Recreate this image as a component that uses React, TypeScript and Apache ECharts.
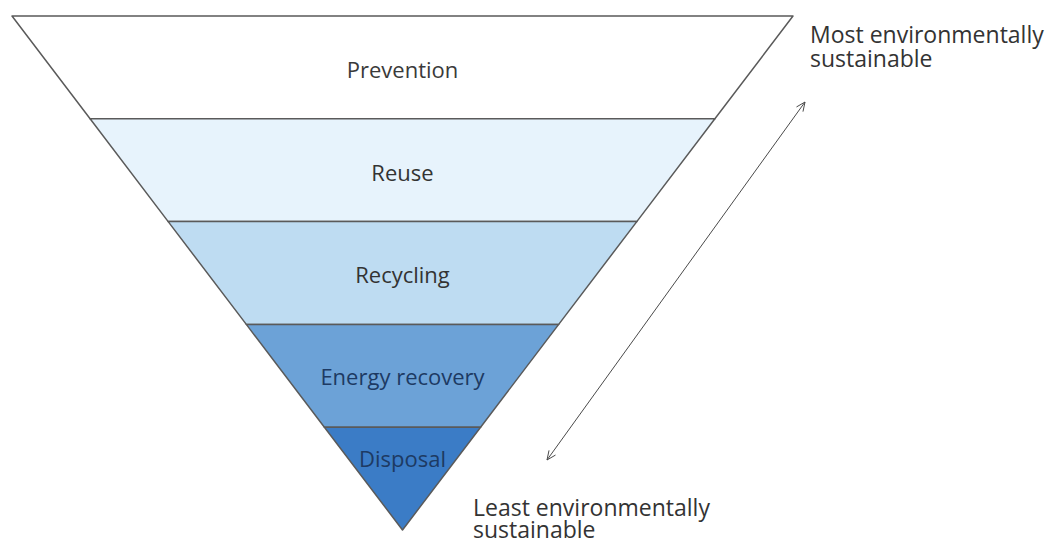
import React, { useEffect, useRef } from "react";
import * as echarts from "echarts";

const levels = ["Prevention", "Reuse", "Recycling", "Energy recovery", "Disposal"];
const levelValues = [5, 4, 3, 2, 1];
const levelColors = ["#ffffff", "#e7f3fc", "#bedcf2", "#6ca2d7", "#3b7cc6"];
const labelColors = ["#3a3a3a", "#333333", "#333333", "#1d3a63", "#1d3a63"];
const labelShiftY = [2, 2, 1, 0, -21];
const topNote = "Most environmentally\nsustainable";
const bottomNote = "Least environmentally\nsustainable";

const FONT = "'Open Sans', 'Noto Sans', sans-serif";

function arrowHead(px: number, py: number, ux: number, uy: number) {
  const len = 9;
  const half = 4;
  const bx = px - ux * len;
  const by = py - uy * len;
  const nx = -uy;
  const ny = ux;
  return [
    [bx + nx * half, by + ny * half],
    [px, py],
    [bx - nx * half, by - ny * half],
  ];
}

export default function App() {
  const ref = useRef<HTMLDivElement>(null);
  useEffect(() => {
    if (!ref.current) return;
    const chart = echarts.init(ref.current, null, { renderer: "svg" });
    const A = [805, 102];
    const B = [547, 460];
    const dx = A[0] - B[0];
    const dy = A[1] - B[1];
    const L = Math.sqrt(dx * dx + dy * dy);
    const ux = dx / L;
    const uy = dy / L;
    const arrowStyle = { stroke: "#4a4a4a", lineWidth: 1, fill: null as any };
    chart.setOption({
      animation: false,
      backgroundColor: "#ffffff",
      series: [
        {
          type: "funnel",
          left: 12,
          top: 16,
          width: 781,
          height: 514,
          sort: "none",
          gap: 0,
          min: 0,
          max: 5,
          minSize: "0%",
          maxSize: "100%",
          funnelAlign: "center",
          itemStyle: { borderColor: "#5a5a5a", borderWidth: 1.5 },
          emphasis: { disabled: true },
          labelLine: { show: false },
          label: {
            show: true,
            position: "inside",
            fontFamily: FONT,
            fontSize: 22,
          },
          labelLayout: (params: any) => ({ dy: labelShiftY[params.dataIndex] || 0 }),
          data: levels.map((name, i) => ({
            name,
            value: levelValues[i],
            itemStyle: { color: levelColors[i] },
            label: { color: labelColors[i] },
          })),
        },
      ],
      graphic: [
        {
          type: "line",
          shape: { x1: B[0], y1: B[1], x2: A[0], y2: A[1] },
          style: { stroke: "#4a4a4a", lineWidth: 1 },
        },
        {
          type: "polyline",
          shape: { points: arrowHead(A[0], A[1], ux, uy) },
          style: arrowStyle,
        },
        {
          type: "polyline",
          shape: { points: arrowHead(B[0], B[1], -ux, -uy) },
          style: arrowStyle,
        },
        {
          type: "text",
          x: 810,
          y: 22,
          style: {
            text: topNote,
            font: `23px ${FONT}`,
            lineHeight: 24,
            fill: "#333333",
            textVerticalAlign: "top",
          },
        },
        {
          type: "text",
          x: 473,
          y: 496,
          style: {
            text: bottomNote,
            font: `23px ${FONT}`,
            lineHeight: 22,
            fill: "#333333",
            textVerticalAlign: "top",
          },
        },
      ],
    });
    return () => chart.dispose();
  }, []);
  return (
    <div
      ref={ref}
      style={{ position: "absolute", left: 0, top: 0, width: 1055, height: 545 }}
    />
  );
}
